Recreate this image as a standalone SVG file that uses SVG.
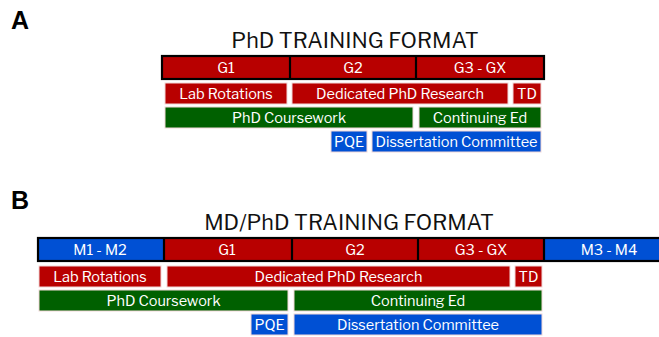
<svg xmlns="http://www.w3.org/2000/svg" width="659" height="337" viewBox="0 0 659 337">
<style>
text{font-family:"Libre Franklin","Inter","Liberation Sans",sans-serif;}
.lbl{font-size:14.5px;fill:#ffffff;text-anchor:middle;}
.ttl{font-size:21.5px;fill:#111;text-anchor:middle;}
.pan{font-size:25px;font-weight:bold;fill:#000;font-family:"Liberation Sans",Arial,sans-serif;}
.r{fill:#b80000;}
.g{fill:#006000;}
.b{fill:#0050d4;}
.box{stroke:#f2d8d8;stroke-width:1;}
.hdr{fill:none;stroke:#000;stroke-width:2.2;}
.div{stroke:#000;stroke-width:2.2;}
</style>
<rect width="659" height="337" fill="#ffffff"/>

<g id="panelA">
<text class="pan" x="11" y="29">A</text>
<text class="ttl" x="355" y="48">PhD TRAINING FORMAT</text>
<g id="A-header">
<rect class="r" x="162" y="56" width="382" height="23"/>
<line class="div" x1="290" y1="56" x2="290" y2="79"/>
<line class="div" x1="416" y1="56" x2="416" y2="79"/>
<rect class="hdr" x="162" y="56" width="382" height="23"/>
<text class="lbl" x="226" y="72.5">G1</text>
<text class="lbl" x="353" y="72.5">G2</text>
<text class="lbl" x="480" y="72.5">G3 - GX</text>
</g>
<g id="A-lab"><rect class="r box" x="165" y="83" width="122" height="21"/><text class="lbl" x="226" y="99">Lab Rotations</text></g>
<g id="A-ded"><rect class="r box" x="292" y="83" width="216" height="21"/><text class="lbl" x="400" y="99">Dedicated PhD Research</text></g>
<g id="A-td"><rect class="r box" x="513" y="83" width="28" height="21"/><text class="lbl" x="527" y="99">TD</text></g>
<g id="A-course"><rect class="g box" x="165" y="107" width="248" height="21"/><text class="lbl" x="289" y="123">PhD Coursework</text></g>
<g id="A-cont"><rect class="g box" x="419" y="107" width="122" height="21"/><text class="lbl" x="480" y="123">Continuing Ed</text></g>
<g id="A-pqe"><rect class="b box" x="331" y="131" width="36" height="21"/><text class="lbl" x="349" y="147">PQE</text></g>
<g id="A-diss"><rect class="b box" x="372" y="131" width="169" height="21"/><text class="lbl" x="456.5" y="147">Dissertation Committee</text></g>
</g>

<g id="panelB">
<text class="pan" x="11" y="209">B</text>
<text class="ttl" x="349" y="230">MD/PhD TRAINING FORMAT</text>
<g id="B-header">
<rect class="b" x="38" y="238" width="126" height="23"/>
<rect class="r" x="164" y="238" width="380" height="23"/>
<rect class="b" x="544" y="238" width="130" height="23"/>
<line class="div" x1="164" y1="238" x2="164" y2="261"/>
<line class="div" x1="292" y1="238" x2="292" y2="261"/>
<line class="div" x1="418" y1="238" x2="418" y2="261"/>
<line class="div" x1="544" y1="238" x2="544" y2="261"/>
<rect class="hdr" x="38" y="238" width="640" height="23"/>
<text class="lbl" x="100" y="254.5">M1 - M2</text>
<text class="lbl" x="227" y="254.5">G1</text>
<text class="lbl" x="355" y="254.5">G2</text>
<text class="lbl" x="481" y="254.5">G3 - GX</text>
<text class="lbl" x="609" y="254.5">M3 - M4</text>
</g>
<g id="B-lab"><rect class="r box" x="39" y="266" width="122" height="21"/><text class="lbl" x="100" y="282">Lab Rotations</text></g>
<g id="B-ded"><rect class="r box" x="167" y="266" width="343" height="21"/><text class="lbl" x="338.5" y="282">Dedicated PhD Research</text></g>
<g id="B-td"><rect class="r box" x="515" y="266" width="27" height="21"/><text class="lbl" x="528.5" y="282">TD</text></g>
<g id="B-course"><rect class="g box" x="39" y="290" width="249" height="21"/><text class="lbl" x="163.5" y="306">PhD Coursework</text></g>
<g id="B-cont"><rect class="g box" x="294" y="290" width="248" height="21"/><text class="lbl" x="418" y="306">Continuing Ed</text></g>
<g id="B-pqe"><rect class="b box" x="251" y="314" width="37" height="21"/><text class="lbl" x="269.5" y="330">PQE</text></g>
<g id="B-diss"><rect class="b box" x="294" y="314" width="248" height="21"/><text class="lbl" x="418" y="330">Dissertation Committee</text></g>
</g>
</svg>
